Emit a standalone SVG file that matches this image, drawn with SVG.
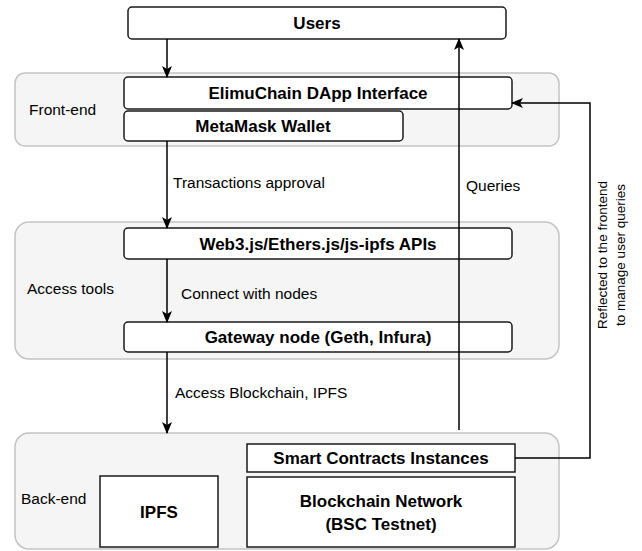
<svg xmlns="http://www.w3.org/2000/svg" width="642" height="551" viewBox="0 0 642 551">
<defs>
<style>
.cont{fill:#f5f5f5;stroke:#c4c4c4;stroke-width:1.5}
.box{fill:#ffffff;stroke:#1a1a1a;stroke-width:1.5}
.bl{font-family:"Liberation Sans",Arial,sans-serif;font-weight:bold;font-size:17px;fill:#000;text-anchor:middle;dominant-baseline:central}
.lb{font-family:"Liberation Sans",Arial,sans-serif;font-size:15.5px;fill:#000;dominant-baseline:central}
.rt{font-family:"Liberation Sans",Arial,sans-serif;font-size:13.5px;fill:#000;text-anchor:middle;dominant-baseline:central}
.edge{fill:none;stroke:#000;stroke-width:1.5}
</style>
<marker id="ah" viewBox="0 0 12 10" refX="11" refY="5" markerWidth="12" markerHeight="10" markerUnits="userSpaceOnUse" orient="auto">
<path d="M0,0 L12,5 L0,10 L3,5 Z" fill="#000"/>
</marker>
</defs>
<g id="frontend">
<rect class="cont" x="15" y="73" width="544" height="73" rx="10"/>
<text class="lb" x="29" y="109">Front-end</text>
</g>
<g id="accesstools">
<rect class="cont" x="15" y="222" width="544" height="137" rx="14"/>
<text class="lb" x="27" y="288">Access tools</text>
</g>
<g id="backend">
<rect class="cont" x="15" y="433" width="544" height="116" rx="14"/>
<text class="lb" x="21" y="498">Back-end</text>
</g>
<g id="users">
<rect class="box" x="128" y="7" width="378" height="32" rx="4"/>
<text class="bl" x="317" y="23">Users</text>
</g>
<g id="dapp">
<rect class="box" x="124" y="77" width="388" height="32" rx="4"/>
<text class="bl" x="318" y="93">ElimuChain DApp Interface</text>
</g>
<g id="metamask">
<rect class="box" x="124" y="111" width="279" height="30" rx="4"/>
<text class="bl" x="263" y="126">MetaMask Wallet</text>
</g>
<g id="web3">
<rect class="box" x="124" y="228" width="388" height="31" rx="4"/>
<text class="bl" x="318" y="244">Web3.js/Ethers.js/js-ipfs APIs</text>
</g>
<g id="gateway">
<rect class="box" x="124" y="322" width="388" height="30" rx="4"/>
<text class="bl" x="318" y="337">Gateway node (Geth, Infura)</text>
</g>
<g id="smartcontracts">
<rect class="box" x="247" y="444" width="268" height="28"/>
<text class="bl" x="381" y="458">Smart Contracts Instances</text>
</g>
<g id="blockchain">
<rect class="box" x="247" y="477" width="268" height="70"/>
<text class="bl" x="381" y="501">Blockchain Network</text>
<text class="bl" x="381" y="524">(BSC Testnet)</text>
</g>
<g id="ipfs">
<rect class="box" x="100" y="476" width="118" height="71"/>
<text class="bl" x="159" y="512">IPFS</text>
</g>
<g id="connectors">
<line class="edge" x1="167" y1="39" x2="167" y2="77" marker-end="url(#ah)"/>
<line class="edge" x1="167" y1="141" x2="167" y2="228" marker-end="url(#ah)"/>
<line class="edge" x1="167" y1="259" x2="167" y2="322" marker-end="url(#ah)"/>
<line class="edge" x1="167" y1="352" x2="167" y2="433" marker-end="url(#ah)"/>
<line class="edge" x1="459" y1="430" x2="459" y2="39" marker-end="url(#ah)"/>
<polyline class="edge" points="515,458 590,458 590,103 512,103" marker-end="url(#ah)"/>
<text class="lb" x="173" y="182">Transactions approval</text>
<text class="lb" x="466" y="185">Queries</text>
<text class="lb" x="181" y="293">Connect with nodes</text>
<text class="lb" x="175" y="392">Access Blockchain, IPFS</text>
<text class="rt" transform="translate(602,255) rotate(-90)">Reflected to the frontend</text>
<text class="rt" transform="translate(620,255) rotate(-90)">to manage user queries</text>
</g>
</svg>
